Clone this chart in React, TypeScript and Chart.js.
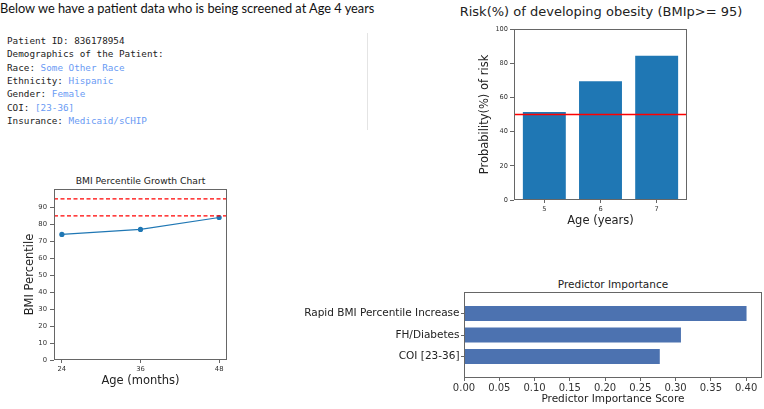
import React, { useEffect, useRef } from "react";
import { Chart, registerables } from "chart.js";

Chart.register(...registerables);

// ---------- data ----------
const headerText = "Below we have a patient data who is being screened at Age 4 years";
const patientLabels = ["Patient ID: ", "Demographics of the Patient:", "Race: ", "Ethnicity: ", "Gender: ", "COI: ", "Insurance: "];
const patientValues = ["836178954", "", "Some Other Race", "Hispanic", "Female", "[23-36]", "Medicaid/sCHIP"];
const patientValueBlue = [false, false, true, true, true, true, true];

const riskTitle = "Risk(%) of developing obesity (BMIp>= 95)";
const riskAges = [5, 6, 7];
const riskValues = [52, 70, 85];
const riskThreshold = 50;
const riskYTicks = [0, 20, 40, 60, 80, 100];

const growthTitle = "BMI Percentile Growth Chart";
const growthAges = [24, 36, 48];
const growthPercentiles = [74, 77, 84];
const growthThresholds = [95, 85];
const growthYTicks = [0, 10, 20, 30, 40, 50, 60, 70, 80, 90];

const predictorTitle = "Predictor Importance";
const predictorNames = ["Rapid BMI Percentile Increase", "FH/Diabetes", "COI [23-36]"];
const predictorScores = [0.402, 0.309, 0.279];
const predictorXTicks = [0, 0.05, 0.1, 0.15, 0.2, 0.25, 0.3, 0.35, 0.4];

// ---------- helpers ----------
const FONT = "'DejaVu Sans', sans-serif";
const FRAME = "#666";
const TICK = "#333";

const framePlugin = {
  id: "frame",
  afterDatasetsDraw(chart: any) {
    const { ctx, chartArea: a } = chart;
    ctx.save();
    ctx.strokeStyle = FRAME;
    ctx.lineWidth = 1;
    ctx.strokeRect(a.left + 0.5, a.top + 0.5, a.right - a.left - 1, a.bottom - a.top - 1);
    ctx.restore();
  },
};

function fix(size: number, isY: boolean) {
  return (scale: any) => {
    if (isY) scale.width = size;
    else scale.height = size;
    scale.paddingLeft = 0;
    scale.paddingRight = 0;
    scale.paddingTop = 0;
    scale.paddingBottom = 0;
  };
}

function setTicks(values: number[]) {
  return (scale: any) => {
    scale.ticks = values.map((v) => ({ value: v }));
  };
}

function ChartCanvas(props: { left: number; top: number; width: number; height: number; make: () => any }) {
  const ref = useRef<HTMLCanvasElement | null>(null);
  useEffect(() => {
    const c = ref.current!;
    const chart = new Chart(c, props.make());
    return () => chart.destroy();
  }, []);
  return (
    <canvas
      ref={ref}
      width={props.width}
      height={props.height}
      style={{ position: "absolute", left: props.left, top: props.top, width: props.width, height: props.height }}
    />
  );
}

function Title(props: { cx: number; cy: number; size: number; text: string }) {
  const lh = Math.round(props.size * 1.3);
  return (
    <div
      style={{
        position: "absolute",
        left: props.cx - 200,
        width: 400,
        top: props.cy - lh / 2,
        lineHeight: lh + "px",
        fontSize: props.size,
        fontFamily: FONT,
        color: "#222",
        textAlign: "center",
        whiteSpace: "nowrap",
      }}
    >
      {props.text}
    </div>
  );
}

// ---------- chart configs ----------
function riskConfig() {
  const xMin = 4.46;
  const xMax = 7.54;
  return {
    type: "bar",
    data: {
      datasets: [
        {
          type: "bar",
          data: riskAges.map((a, i) => ({ x: a, y: riskValues[i] })),
          backgroundColor: "#1f77b4",
          borderColor: "rgba(255,255,255,0.35)",
          borderWidth: 1,
          barPercentage: 0.8,
          categoryPercentage: 1,
          order: 2,
        },
        {
          type: "line",
          data: [
            { x: xMin, y: riskThreshold },
            { x: xMax, y: riskThreshold },
          ],
          borderColor: "#ff0000",
          borderWidth: 1.4,
          pointRadius: 0,
          order: 1,
        },
      ],
    },
    options: {
      animation: false,
      responsive: false,
      events: [],
      layout: { padding: { left: 0, top: 14, right: 23, bottom: 0 } },
      plugins: { legend: { display: false }, tooltip: { enabled: false }, title: { display: false } },
      scales: {
        x: {
          type: "linear",
          min: xMin,
          max: xMax,
          offset: false,
          afterFit: fix(35, false),
          afterBuildTicks: setTicks(riskAges),
          grid: { display: true, offset: false, drawOnChartArea: false, drawTicks: true, tickLength: 3, tickColor: FRAME },
          border: { display: false },
          ticks: { color: TICK, font: { family: FONT, size: 6.6 }, padding: 2, maxRotation: 0 },
          title: { display: true, text: "Age (years)", color: "#222", font: { family: FONT, size: 11.5 }, padding: { top: 0, bottom: 7.1 } },
        },
        y: {
          type: "linear",
          min: 0,
          max: 100,
          afterFit: fix(84, true),
          afterBuildTicks: setTicks(riskYTicks),
          grid: { display: true, drawOnChartArea: false, drawTicks: true, tickLength: 4, tickColor: FRAME },
          border: { display: false },
          ticks: { color: TICK, font: { family: FONT, size: 6.6 }, padding: 2 },
          title: { display: true, text: "Probability(%) of risk", color: "#222", font: { family: FONT, size: 11.5 }, padding: { top: 48.1, bottom: 0 } },
        },
      },
    },
    plugins: [framePlugin],
  };
}

function growthConfig() {
  const xMin = 22.8;
  const xMax = 49.2;
  return {
    type: "line",
    data: {
      datasets: [
        {
          data: growthAges.map((a, i) => ({ x: a, y: growthPercentiles[i] })),
          borderColor: "#1f77b4",
          backgroundColor: "#1f77b4",
          borderWidth: 1.2,
          pointRadius: 2.6,
          pointBorderWidth: 0,
          order: 2,
        },
        ...growthThresholds.map((t) => ({
          data: [
            { x: xMin, y: t },
            { x: xMax, y: t },
          ],
          borderColor: "#ff0000",
          borderWidth: 1.2,
          borderDash: [4, 2.5],
          pointRadius: 0,
          order: 1,
        })),
      ],
    },
    options: {
      animation: false,
      responsive: false,
      events: [],
      layout: { padding: { left: 0, top: 3, right: 18, bottom: 0 } },
      plugins: { legend: { display: false }, tooltip: { enabled: false }, title: { display: false } },
      scales: {
        x: {
          type: "linear",
          min: xMin,
          max: xMax,
          afterFit: fix(40, false),
          afterBuildTicks: setTicks(growthAges),
          grid: { display: true, drawOnChartArea: false, drawTicks: true, tickLength: 3, tickColor: FRAME },
          border: { display: false },
          ticks: { color: TICK, font: { family: FONT, size: 6.8 }, padding: 2, maxRotation: 0 },
          title: { display: true, text: "Age (months)", color: "#222", font: { family: FONT, size: 11.5 }, padding: { top: 0, bottom: 12.4 } },
        },
        y: {
          type: "linear",
          min: 0,
          max: 100.8,
          afterFit: fix(54, true),
          afterBuildTicks: setTicks(growthYTicks),
          grid: { display: true, drawOnChartArea: false, drawTicks: true, tickLength: 4, tickColor: FRAME },
          border: { display: false },
          ticks: { color: TICK, font: { family: FONT, size: 6.8 }, padding: 3 },
          title: { display: true, text: "BMI Percentile", color: "#222", font: { family: FONT, size: 11.5 }, padding: { top: 23.1, bottom: 0 } },
        },
      },
    },
    plugins: [framePlugin],
  };
}

function predictorConfig() {
  return {
    type: "bar",
    data: {
      datasets: [
        {
          data: predictorScores.map((s, i) => ({ x: s, y: i })),
          backgroundColor: "#4c72b0",
          borderColor: "rgba(255,255,255,0.45)",
          borderWidth: 1,
          barPercentage: 0.8,
          categoryPercentage: 1,
        },
      ],
    },
    options: {
      indexAxis: "y",
      animation: false,
      responsive: false,
      events: [],
      layout: { padding: { left: 0, top: 4, right: 2, bottom: 0 } },
      plugins: { legend: { display: false }, tooltip: { enabled: false }, title: { display: false } },
      scales: {
        x: {
          type: "linear",
          min: 0,
          max: 0.4225,
          afterFit: fix(31, false),
          afterBuildTicks: setTicks(predictorXTicks),
          grid: { display: true, drawOnChartArea: false, drawTicks: true, tickLength: 3, tickColor: FRAME },
          border: { display: false },
          ticks: { color: TICK, font: { family: FONT, size: 10 }, padding: 1.5, maxRotation: 0, callback: (v: any) => Number(v).toFixed(2) },
          title: { display: true, text: "Predictor Importance Score", color: "#222", font: { family: FONT, size: 10.5 }, padding: { top: 0, bottom: 3.7 } },
        },
        y: {
          type: "linear",
          reverse: true,
          min: -1,
          max: 3,
          offset: false,
          afterFit: fix(174, true),
          afterBuildTicks: setTicks([0, 1, 2]),
          grid: { display: true, offset: false, drawOnChartArea: false, drawTicks: true, tickLength: 3, tickColor: FRAME },
          border: { display: false },
          ticks: { color: "#222", font: { family: FONT, size: 10.5 }, padding: 1.5, callback: (v: any) => predictorNames[v] ?? "" },
        },
      },
    },
    plugins: [framePlugin],
  };
}

// ---------- app ----------
export default function App() {
  return (
    <div style={{ position: "absolute", left: 0, top: 0, width: 764, height: 409, background: "#fff", overflow: "hidden" }}>
      <div
        style={{
          position: "absolute",
          left: 0,
          top: 0,
          fontFamily: "Lato, 'Open Sans', sans-serif",
          fontSize: 12.8,
          lineHeight: "17px",
          color: "#111",
          whiteSpace: "nowrap",
        }}
      >
        {headerText}
      </div>

      <div
        style={{
          position: "absolute",
          left: 7,
          top: 34,
          fontFamily: "'DejaVu Sans Mono', monospace",
          fontSize: 9.3,
          lineHeight: "13.35px",
          color: "#222",
          whiteSpace: "pre",
        }}
      >
        {patientLabels.map((lab, i) => (
          <div key={i}>
            {lab}
            <span style={{ color: patientValueBlue[i] ? "#6a9bf4" : "#222" }}>{patientValues[i]}</span>
          </div>
        ))}
      </div>

      <div style={{ position: "absolute", left: 367, top: 33, width: 1, height: 97, background: "#e4e4e4" }} />

      <Title cx={601} cy={11} size={13} text={riskTitle} />
      <ChartCanvas left={430} top={15} width={280} height={220} make={riskConfig} />

      <Title cx={140.5} cy={181} size={9.2} text={growthTitle} />
      <ChartCanvas left={0} top={185} width={245} height={215} make={growthConfig} />

      <Title cx={613} cy={284} size={10.5} text={predictorTitle} />
      <ChartCanvas left={290} top={288} width={474} height={121} make={predictorConfig} />
    </div>
  );
}
